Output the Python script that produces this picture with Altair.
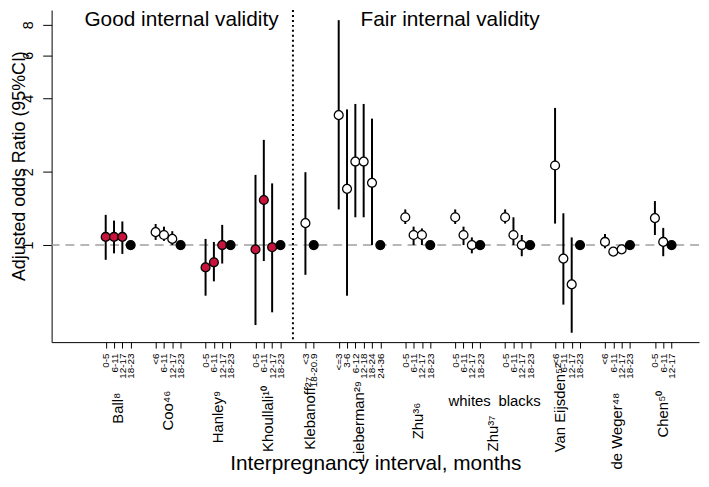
import json
import altair as alt
import pandas as pd

# ---------------- data ----------------
group_keys = ["Ball", "Coo", "Hanley", "Khoullali", "Klebanoff", "Lieberman",
              "Zhu36", "Zhu37w", "Zhu37b", "VanEijsden", "deWeger", "Chen"]
group_marker = ["red", "open", "red", "red", "open", "open",
                "open", "open", "open", "open", "open", "open"]

intervals = {
    "Ball": ["0-5", "6-11", "12-17", "18-23"],
    "Coo": ["<6", "6-11", "12-17", "18-23"],
    "Hanley": ["0-5", "6-11", "12-17", "18-23"],
    "Khoullali": ["0-5", "6-11", "12-17", "18-23"],
    "Klebanoff": ["<3", "18-20.9"],
    "Lieberman": ["<=3", "3-6", "6-12", "12-18", "18-24", "24-36"],
    "Zhu36": ["0-5", "6-11", "12-17", "18-23"],
    "Zhu37w": ["0-5", "6-11", "12-17", "18-23"],
    "Zhu37b": ["0-5", "6-11", "12-17", "18-23"],
    "VanEijsden": ["<6", "6-11", "12-17", "18-23"],
    "deWeger": ["<6", "6-11", "12-17", "18-23"],
    "Chen": ["0-5", "6-11", "12-17"],
}
# adjusted odds ratios (last value of each study = reference category)
odds = {
    "Ball": [1.08, 1.08, 1.08, 1.0],
    "Coo": [1.13, 1.10, 1.06, 1.0],
    "Hanley": [0.81, 0.85, 1.0, 1.0],
    "Khoullali": [0.96, 1.53, 0.98, 1.0],
    "Klebanoff": [1.23, 1.0],
    "Lieberman": [3.41, 1.70, 2.20, 2.20, 1.80, 1.0],
    "Zhu36": [1.30, 1.10, 1.10, 1.0],
    "Zhu37w": [1.30, 1.10, 1.0, 1.0],
    "Zhu37b": [1.30, 1.10, 1.0, 1.0],
    "VanEijsden": [2.12, 0.88, 0.69, 1.0],
    "deWeger": [1.03, 0.94, 0.96, 1.0],
    "Chen": [1.29, 1.03, 1.0],
}
lower = {
    "Ball": [0.87, 0.925, 0.92],
    "Coo": [1.05, 1.04, 1.00],
    "Hanley": [0.62, 0.71, 0.84],
    "Khoullali": [0.47, 0.86, 0.53],
    "Klebanoff": [0.755],
    "Lieberman": [1.40, 0.62, 1.30, 1.30, 1.0],
    "Zhu36": [1.22, 1.0, 1.0],
    "Zhu37w": [1.22, 1.0, 0.925],
    "Zhu37b": [1.225, 1.0, 0.90],
    "VanEijsden": [1.225, 0.57, 0.437],
    "deWeger": [0.97, 0.91, 0.93],
    "Chen": [1.10, 0.90],
}
upper = {
    "Ball": [1.33, 1.26, 1.25],
    "Coo": [1.22, 1.19, 1.14],
    "Hanley": [1.06, 1.03, 1.21],
    "Khoullali": [1.94, 2.70, 1.79],
    "Klebanoff": [1.99],
    "Lieberman": [8.36, 3.60, 3.79, 3.79, 3.30],
    "Zhu36": [1.40, 1.19, 1.17],
    "Zhu37w": [1.40, 1.19, 1.075],
    "Zhu37b": [1.40, 1.30, 1.10],
    "VanEijsden": [3.65, 1.35, 1.075],
    "deWeger": [1.11, 0.97, 0.99],
    "Chen": [1.515, 1.176],
}
study_labels = ["Ball⁸", "Coo⁴⁶", "Hanley⁹", "Khoullali¹⁰", "Klebanoff²⁷",
                "Lieberman²⁹", "Zhu³⁶", "Zhu³⁷", "Van Eijsden⁵²",
                "de Weger⁴⁸", "Chen⁵⁰"]
label_groups = [["Ball"], ["Coo"], ["Hanley"], ["Khoullali"], ["Klebanoff"],
                ["Lieberman"], ["Zhu36"], ["Zhu37w", "Zhu37b"], ["VanEijsden"],
                ["deWeger"], ["Chen"]]
subgroup_labels = {"Zhu37w": "whites", "Zhu37b": "blacks"}

# ---------------- build tables ----------------
rows = []
group_pos = {}
p = 1
for g, mk in zip(group_keys, group_marker):
    n = len(odds[g])
    ps = list(range(p, p + n))
    group_pos[g] = ps
    for i in range(n):
        ref = i == n - 1
        rows.append({
            "pos": ps[i], "interval": intervals[g][i], "or": odds[g][i],
            "lo": None if ref else lower[g][i],
            "hi": None if ref else upper[g][i],
            "kind": "ref" if ref else mk, "study": g,
        })
    p += n + 2
df = pd.DataFrame(rows)
df_ci = df.dropna(subset=["lo"])

tick_values = df["pos"].tolist()
lab_arr = [""] * (max(tick_values) + 1)
for pp, lab in zip(df["pos"], df["interval"]):
    lab_arr[pp] = lab
label_expr = json.dumps(lab_arr) + "[datum.value]"

# ---------------- layout / style ----------------
FONT = "Liberation Sans"
W, H = 653, 335
xs = alt.Scale(domain=[-5.5, 72.3], nice=False, zero=False)
ys = alt.Scale(type="log", domain=[0.4, 9.2], nice=False)
split_at = 23.5
label_top = {"Ball⁸": 386, "Coo⁴⁶": 384, "Hanley⁹": 384, "Khoullali¹⁰": 379,
             "Klebanoff²⁷": 370, "Lieberman²⁹": 374, "Zhu³⁶": 396, "Zhu³⁷": 409,
             "Van Eijsden⁵²": 356, "de Weger⁴⁸": 386, "Chen⁵⁰": 384}
label_shift = {"Van Eijsden⁵²": -8}

x_axis = alt.Axis(values=tick_values, labelExpr=label_expr, labelAngle=270,
                  labelAlign="right", labelBaseline="middle", labelFontSize=10,
                  labelPadding=5, tickSize=6, labelOverlap=False, labelFlush=False,
                  labelBound=False, grid=False,
                  title="Interpregnancy interval, months",
                  titleFontSize=21, titleFontWeight="normal", titleY=122,
                  titleBaseline="middle")
y_axis = alt.Axis(values=[1, 2, 4, 6, 8], format="d", labelAngle=270,
                  labelAlign="center", labelBaseline="alphabetic",
                  labelFontSize=14.5, labelPadding=10, tickSize=9,
                  labelOverlap=False, labelFlush=False, labelBound=False, grid=False,
                  title="Adjusted  odds Ratio (95%CI)", titleFontSize=18,
                  titleFontWeight="normal", titleAngle=270, titleX=-32,
                  titleY=157, titleAlign="center", titleBaseline="middle")

X = lambda f: alt.X(f, scale=xs, axis=x_axis)
Y = lambda f: alt.Y(f, scale=ys, axis=y_axis)

ref_line = alt.Chart(pd.DataFrame({"ref": [1]})).mark_rule(
    color="#a0a0a0", strokeWidth=1.6, strokeDash=[9, 6]
).encode(y=Y("ref:Q"))
split_line = alt.Chart(pd.DataFrame({"split": [split_at]})).mark_rule(
    color="black", strokeWidth=2, strokeDash=[2, 3]
).encode(x=X("split:Q"))
errbars = alt.Chart(df_ci).mark_rule(color="black", strokeWidth=2).encode(
    x=X("pos:Q"), y=Y("lo:Q"), y2="hi:Q",
)
points = alt.Chart(df).mark_point(
    shape="circle", filled=True, size=80, stroke="black", strokeWidth=1.3, opacity=1
).encode(
    x=X("pos:Q"), y=Y("or:Q"),
    fill=alt.Fill("kind:N", scale=alt.Scale(domain=["red", "open", "ref"],
                                            range=["#C8143C", "white", "black"]),
                  legend=None),
)

layers = [ref_line, split_line, errbars, points]

for lab, grps in zip(study_labels, label_groups):
    allp = [q for g in grps for q in group_pos[g]]
    cx = (min(allp) + max(allp)) / 2
    layers.append(
        alt.Chart(pd.DataFrame({"pos": [cx], "label": [lab]})).mark_text(
            angle=270, align="right", baseline="middle", fontSize=15, font=FONT,
            color="black", dy=label_shift.get(lab, 0)
        ).encode(x=X("pos:Q"), y=alt.value(label_top[lab]), text="label:N")
    )
for g, lab in subgroup_labels.items():
    cx = (min(group_pos[g]) + max(group_pos[g])) / 2
    layers.append(
        alt.Chart(pd.DataFrame({"pos": [cx], "label": [lab]})).mark_text(
            align="center", baseline="middle", fontSize=15, font=FONT, color="black",
            dx=2
        ).encode(x=X("pos:Q"), y=alt.value(394), text="label:N")
    )

for txt, px in [("Good internal validity", 131), ("Fair internal validity", 402)]:
    layers.append(
        alt.Chart(pd.DataFrame({"t": [txt]})).mark_text(
            align="center", baseline="top", fontSize=21, font=FONT, color="black"
        ).encode(x=alt.value(px), y=alt.value(-1), text="t:N")
    )

chart = alt.layer(*layers).properties(
    width=W, height=H,
    padding={"left": 44, "top": 0, "right": 2, "bottom": 132},
    autosize=alt.AutoSizeParams(type="none"),
).configure_view(stroke=None).configure_axis(
    domainColor="black", tickColor="black", labelColor="black", titleColor="black",
    labelFont=FONT, titleFont=FONT, domainWidth=1, tickWidth=1
).configure_text(font=FONT)

chart.save("out.html", embed_options={"renderer": "svg", "actions": False})
